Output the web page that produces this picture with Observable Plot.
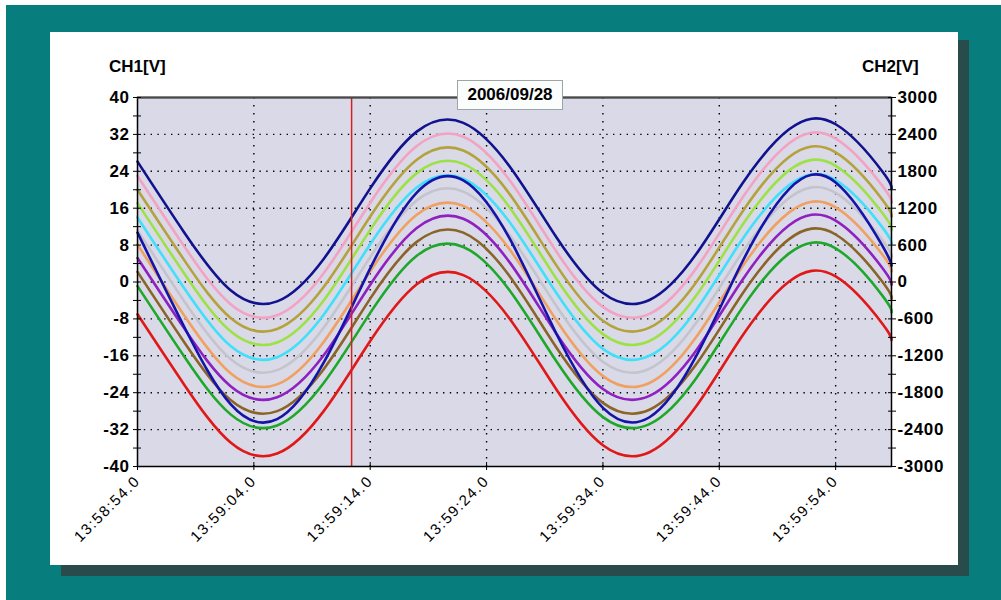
<!DOCTYPE html>
<html>
<head>
<meta charset="utf-8">
<script src="https://cdn.jsdelivr.net/npm/d3@7"></script>
<script src="https://cdn.jsdelivr.net/npm/@observablehq/plot@0.6"></script>
<style>
  html, body { margin: 0; padding: 0; background: #ffffff; }
  #wrap { position: relative; width: 1001px; height: 600px; overflow: hidden; font-family: "Liberation Sans", Arial, sans-serif; }
  #teal { position: absolute; left: 6px; top: 5px; width: 995px; height: 595px; background: #087d7e; }
  #shadow { position: absolute; left: 61px; top: 40px; width: 908px; height: 536px; background: #2a4b4b; }
  #panel { position: absolute; left: 50px; top: 32px; width: 908px; height: 533px; background: #ffffff; }
  #chart { position: absolute; left: 0; top: 0; }
  .lbl { position: absolute; font-weight: bold; font-size: 17px; color: #000; white-space: nowrap; }
  #ch1 { left: 109px; top: 57px; }
  #ch2 { left: 862px; top: 57px; }
  #date { position: absolute; left: 457px; top: 80px; width: 104px; height: 28px; background: #fbfdfd; border: 1px solid #9aa6a6; font-weight: bold; font-size: 17px; text-align: center; line-height: 28px; color: #000; }
  g[aria-label="x-axis tick label"] text { letter-spacing: 1.5px; }
  g[aria-label="y-axis tick label"] text { letter-spacing: 0.6px; }
</style>
</head>
<body>
<div id="wrap">
  <div id="teal"></div>
  <div id="shadow"></div>
  <div id="panel"></div>
  <div id="chart"></div>
  <div class="lbl" id="ch1">CH1[V]</div>
  <div class="lbl" id="ch2">CH2[V]</div>
  <div id="date">2006/09/28</div>
</div>
<script>
// ---- data ----
const dateLabel = "2006/09/28";
const startLabel = "13:58:54.0";
const endSec = 64.8;            // right edge of the plot, seconds after start
const cursorSec = 18.4;         // red cursor line
const sampleSec = [0, 4, 8, 12, 16, 20, 24, 28, 32, 36, 40, 44, 48, 52, 56, 60, 64, 64.8];

const xTickLabels = ["13:58:54.0", "13:59:04.0", "13:59:14.0", "13:59:24.0", "13:59:34.0", "13:59:44.0", "13:59:54.0"];
const ch1Ticks = [-40, -36, -32, -28, -24, -20, -16, -12, -8, -4, 0, 4, 8, 12, 16, 20, 24, 28, 32, 36, 40];
const ch1Labels = [-40, -32, -24, -16, -8, 0, 8, 16, 24, 32, 40];
const ch2Labels = [-3000, -2400, -1800, -1200, -600, 0, 600, 1200, 1800, 2400, 3000];

// CH1 series [V]
const ch1_navy   = [26.1, 10.8, -1.8, -4.2, 5.0, 20.3, 32.6, 34.5, 25.0, 9.7, -2.4, -3.9, 6.0, 21.4, 33.1, 34.2, 24.0, 20.2];
const ch1_pink   = [23.0, 7.8, -4.8, -7.2, 1.9, 17.2, 29.5, 31.5, 22.0, 6.6, -5.4, -6.9, 2.9, 18.3, 30.1, 31.1, 20.9, 17.2];
const ch1_olive  = [20.0, 4.8, -7.8, -10.2, -1.1, 14.2, 26.5, 28.5, 19.0, 3.6, -8.4, -9.9, -0.1, 15.3, 27.1, 28.1, 17.9, 14.2];
const ch1_lime   = [17.1, 1.9, -10.7, -13.1, -4.0, 11.3, 23.6, 25.6, 16.1, 0.7, -11.3, -12.8, -3.0, 12.4, 24.2, 25.2, 15.0, 11.3];
const ch1_cyan   = [14.0, -1.3, -13.9, -16.3, -7.1, 8.2, 20.5, 22.4, 12.9, -2.4, -14.5, -16.0, -6.1, 9.3, 21.0, 22.1, 11.9, 8.2];
const ch1_gray   = [11.2, -4.1, -16.7, -19.1, -9.9, 5.4, 17.7, 19.6, 10.1, -5.2, -17.3, -18.8, -8.9, 6.5, 18.2, 19.3, 9.1, 5.4];
const ch1_orange = [8.1, -7.2, -19.8, -22.2, -13.0, 2.3, 14.6, 16.5, 7.0, -8.3, -20.4, -21.9, -12.0, 3.4, 15.1, 16.2, 6.0, 2.3];
const ch1_purple = [5.2, -10.0, -22.6, -25.0, -15.9, -0.6, 11.7, 13.7, 4.2, -11.2, -23.2, -24.7, -14.9, 0.5, 12.3, 13.3, 3.1, -0.6];
const ch1_brown  = [2.2, -13.0, -25.6, -28.0, -18.9, -3.6, 8.7, 10.7, 1.2, -14.2, -26.2, -27.7, -17.9, -2.5, 9.3, 10.3, 0.1, -3.6];
const ch1_green  = [-0.9, -16.1, -28.7, -31.1, -21.9, -6.7, 5.7, 7.6, -1.9, -17.2, -29.3, -30.8, -20.9, -5.5, 6.2, 7.3, -2.9, -6.6];
const ch1_red    = [-7.0, -22.2, -34.8, -37.2, -28.0, -12.8, -0.5, 1.5, -8.0, -23.3, -35.4, -36.9, -27.0, -11.6, 0.1, 1.2, -9.0, -12.6];
// CH2 series [V]
const ch2_blue   = [802, -724, -1986, -2231, -1312, 221, 1454, 1653, 700, -841, -2046, -2199, -1210, 335, 1510, 1619, 594, 261];

const seriesList = [
  {name: "CH1 red",    values: ch1_red,    color: "#e01818", ch: 1},
  {name: "CH1 green",  values: ch1_green,  color: "#1ea82a", ch: 1},
  {name: "CH1 brown",  values: ch1_brown,  color: "#8a6428", ch: 1},
  {name: "CH1 purple", values: ch1_purple, color: "#9020c0", ch: 1},
  {name: "CH1 orange", values: ch1_orange, color: "#f0a060", ch: 1},
  {name: "CH1 gray",   values: ch1_gray,   color: "#c4c4cc", ch: 1},
  {name: "CH1 cyan",   values: ch1_cyan,   color: "#40e0f8", ch: 1},
  {name: "CH1 lime",   values: ch1_lime,   color: "#9ce244", ch: 1},
  {name: "CH1 olive",  values: ch1_olive,  color: "#b4a23c", ch: 1},
  {name: "CH1 pink",   values: ch1_pink,   color: "#f4a2c4", ch: 1},
  {name: "CH2 blue",   values: ch2_blue,   color: "#1414a8", ch: 2},
  {name: "CH1 navy",   values: ch1_navy,   color: "#12128e", ch: 1}
];

// ---- helpers ----
const ch2PerCh1 = 3000 / 40;
function parseClock(s) {
  const [h, m, sec] = s.split(":").map(Number);
  return Date.UTC(2006, 8, 28, h, m, 0) + sec * 1000;
}
const t0 = parseClock(startLabel);
const at = (s) => new Date(t0 + s * 1000);
const xTicks = xTickLabels.map(l => new Date(parseClock(l)));

const rows = [];
for (const s of seriesList) {
  s.values.forEach((v, i) => rows.push({series: s.name, t: at(sampleSec[i]), v: s.ch === 2 ? v / ch2PerCh1 : v}));
}

const font = "'Liberation Sans', Arial, sans-serif";
const marks = [
  Plot.frame({fill: "#d9d9e8"}),
  Plot.gridY(ch1Labels.filter(d => d > -40 && d < 40), {stroke: "#000", strokeOpacity: 1, strokeWidth: 1.4, strokeDasharray: "1.4,5.4"}),
  Plot.gridX(xTicks.slice(1), {stroke: "#000", strokeOpacity: 1, strokeWidth: 1.4, strokeDasharray: "1.4,6.6"}),
];
for (const s of seriesList) {
  marks.push(Plot.line(rows.filter(r => r.series === s.name), {
    x: "t", y: "v", stroke: s.color, strokeWidth: 2.6, curve: "natural", strokeLinejoin: "round"
  }));
}
marks.push(
  Plot.ruleX([at(cursorSec)], {stroke: "#d42020", strokeWidth: 1.5}),
  Plot.frame({stroke: "#000", strokeWidth: 1.5}),
  Plot.ruleY([40], {stroke: "#4a4a4a", strokeWidth: 2}),
  Plot.axisY(ch1Ticks, {anchor: "left", tickSize: 8, dx: 4, tickPadding: 4,
    tickFormat: d => ch1Labels.includes(d) ? String(d) : "",
    fontWeight: "bold", fontSize: 17, fontFamily: font, label: null}),
  Plot.axisY(ch1Ticks, {anchor: "right", tickSize: 8, dx: -4, tickPadding: 2,
    tickFormat: d => ch1Labels.includes(d) ? String(ch2Labels[ch1Labels.indexOf(d)]) : "",
    fontWeight: "bold", fontSize: 17, fontFamily: font, label: null}),
  Plot.axisX(xTicks, {anchor: "bottom", tickSize: 8, dy: -4, tickPadding: 8, tickRotate: -45,
    tickFormat: d => xTickLabels[xTicks.findIndex(t => +t === +d)],
    fontSize: 15, fontFamily: font, label: null})
);

const chart = Plot.plot({
  width: 1001,
  height: 600,
  marginLeft: 137,
  marginRight: 110,
  marginTop: 97,
  marginBottom: 134,
  x: {type: "utc", domain: [at(0), at(endSec)]},
  y: {domain: [-40, 40]},
  style: {background: "transparent", overflow: "visible", color: "#000", fontFamily: font},
  marks
});
document.getElementById("chart").appendChild(chart);
</script>
</body>
</html>
